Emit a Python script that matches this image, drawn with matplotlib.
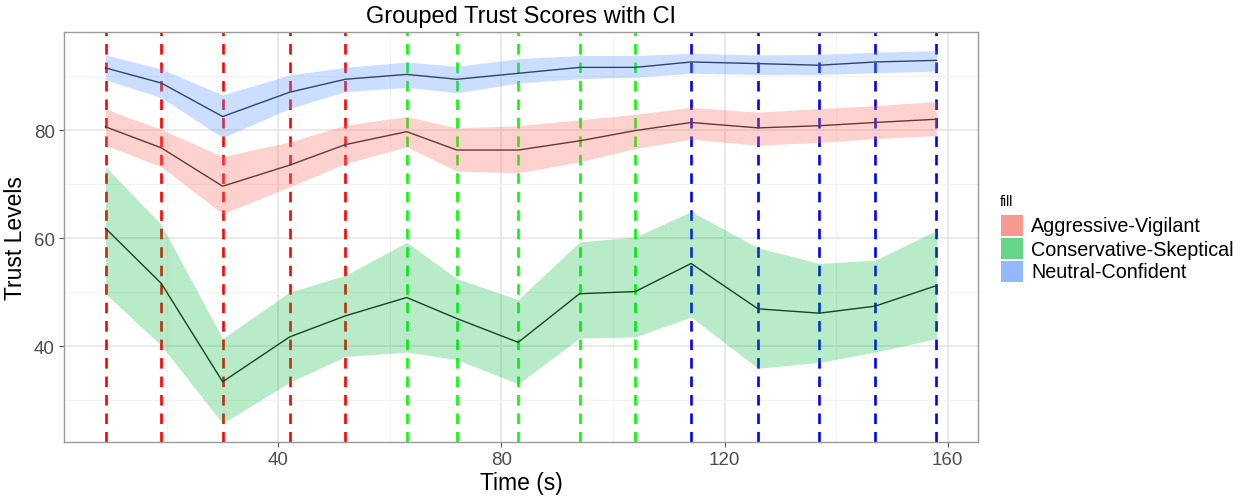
import matplotlib
matplotlib.use("Agg")
import matplotlib.pyplot as plt
from matplotlib.patches import Rectangle
from matplotlib.ticker import MultipleLocator

plt.rcParams['font.family'] = ['Liberation Sans', 'DejaVu Sans']

# ---------------- data ----------------
time = [9, 19, 30, 42, 52, 63, 72, 83, 94, 104, 114, 126, 137, 147, 158]
groups = ["Aggressive-Vigilant", "Conservative-Skeptical", "Neutral-Confident"]

agg_mean = [80.6, 76.7, 69.6, 73.5, 77.3, 79.7, 76.3, 76.3, 78.0, 79.9, 81.4, 80.4, 80.8, 81.4, 82.0]
agg_lo   = [77.2, 73.2, 64.5, 69.5, 73.8, 76.9, 72.4, 72.1, 74.1, 76.6, 78.3, 77.2, 77.7, 78.4, 79.0]
agg_hi   = [83.9, 80.1, 75.1, 77.8, 80.9, 82.5, 80.4, 80.8, 81.9, 82.9, 84.2, 83.3, 84.0, 84.5, 85.3]

con_mean = [61.8, 51.6, 33.4, 41.7, 45.6, 49.0, 45.1, 40.7, 49.7, 50.1, 55.3, 46.9, 46.1, 47.4, 51.2]
con_lo   = [49.7, 40.1, 25.7, 33.3, 38.1, 38.9, 37.5, 33.0, 41.5, 41.7, 45.4, 35.9, 37.0, 38.9, 41.4]
con_hi   = [73.2, 62.5, 41.4, 50.0, 53.1, 59.2, 52.5, 48.6, 59.3, 60.2, 64.9, 58.2, 55.3, 55.9, 61.4]

neu_mean = [91.5, 88.7, 82.5, 87.0, 89.4, 90.3, 89.4, 90.5, 91.6, 91.6, 92.6, 92.3, 92.0, 92.6, 92.9]
neu_lo   = [89.3, 86.0, 78.6, 84.0, 87.1, 87.9, 86.9, 88.7, 89.5, 89.8, 90.5, 90.3, 90.3, 90.6, 90.9]
neu_hi   = [93.9, 91.3, 86.5, 90.2, 91.6, 92.6, 91.8, 93.2, 93.8, 93.8, 94.2, 93.9, 94.0, 94.4, 94.7]

# vertical marker lines (time points grouped by phase)
vline_times = time
vline_groups = ["red"] * 5 + ["green"] * 5 + ["blue"] * 5

# ---------------- styling ----------------
fill_colors = {"Aggressive-Vigilant": "#F8766D",
               "Conservative-Skeptical": "#00BA38",
               "Neutral-Confident": "#619CFF"}
fill_alpha = {"Aggressive-Vigilant": 0.33,
              "Conservative-Skeptical": 0.28,
              "Neutral-Confident": 0.33}
vline_colors = {"red": "#FF0000", "green": "#00FF00", "blue": "#0000FF"}

W, H = 1251, 502
fig = plt.figure(figsize=(W / 100, H / 100), dpi=100)
L, R, T, B = 64, 978, 33, 443
ax = fig.add_axes([L / W, 1 - B / H, (R - L) / W, (B - T) / H])

# expansion like ggplot (5%)
xmin, xmax = min(time), max(time)
xr = xmax - xmin
ax.set_xlim(xmin - 0.05 * xr, xmax + 0.05 * xr)
ymin = min(con_lo + agg_lo + neu_lo)
ymax = max(con_hi + agg_hi + neu_hi)
yr = ymax - ymin
ax.set_ylim(ymin - 0.05 * yr, ymax + 0.05 * yr)

# grid
ax.xaxis.set_major_locator(MultipleLocator(40))
ax.xaxis.set_minor_locator(MultipleLocator(20))
ax.yaxis.set_major_locator(MultipleLocator(20))
ax.yaxis.set_minor_locator(MultipleLocator(10))
ax.grid(which="major", color="#E6E6E6", lw=1.2, zorder=0)
ax.grid(which="minor", color="#F3F3F3", lw=0.8, zorder=0)
ax.set_axisbelow(True)

for t, g in zip(vline_times, vline_groups):
    ax.axvline(t, color=vline_colors[g], lw=1.9, linestyle=(0, (4, 3)), zorder=1)

series = [
    (groups[0], agg_mean, agg_lo, agg_hi),
    (groups[1], con_mean, con_lo, con_hi),
    (groups[2], neu_mean, neu_lo, neu_hi),
]
for name, m, lo, hi in series:
    ax.plot(time, m, color="#1a1a1a", lw=1.0, zorder=2)
    ax.fill_between(time, lo, hi, color=fill_colors[name], alpha=fill_alpha[name], lw=0, zorder=3)

for s in ax.spines.values():
    s.set_color("#9A9A9A")
    s.set_linewidth(1.0)

ax.tick_params(which="major", length=3.5, width=0.8, color="#555555",
               labelsize=13.5, labelcolor="#4D4D4D", pad=3)
ax.tick_params(which="minor", length=0)

ax.set_xlabel("Time (s)", fontsize=16.5, color="black", labelpad=2)
ax.set_ylabel("Trust Levels", fontsize=16.5, color="black", labelpad=5)
ax.set_title("Grouped Trust Scores with CI", fontsize=17, color="black", pad=7)

# legend (manual, ggplot style)
fig.text(1000 / W, 1 - 202 / H, "fill", fontsize=10, va="center", ha="left")
key_alpha = {"Aggressive-Vigilant": 0.75, "Conservative-Skeptical": 0.6, "Neutral-Confident": 0.7}
for i, name in enumerate(groups):
    y_top = 216 + i * 23
    fig.patches.append(Rectangle((1001 / W, 1 - (y_top + 21) / H), 22 / W, 21 / H,
                                 transform=fig.transFigure, facecolor=fill_colors[name],
                                 alpha=key_alpha[name], edgecolor="none"))
    fig.text(1031 / W, 1 - (y_top + 11) / H, name, fontsize=14.2, va="center", ha="left")

fig.savefig("out.png", dpi=100)
